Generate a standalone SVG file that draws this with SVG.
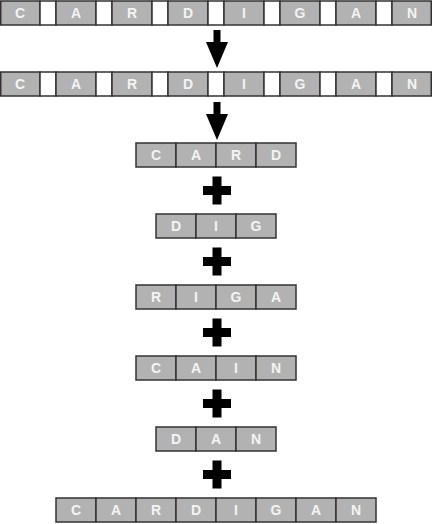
<svg xmlns="http://www.w3.org/2000/svg" width="432" height="524" viewBox="0 0 432 524">
<style>
.g{fill:#b2b2b2;stroke:#333;stroke-width:1.5}
.w{fill:#fff;stroke:#333;stroke-width:1.5}
text{font-family:"Liberation Sans",Arial,sans-serif;font-weight:bold;font-size:14px;fill:#f4f4f4;text-anchor:middle}
.sym{fill:#000}
</style>
<defs>
<path id="plus" d="M-4.5 -14 H4.5 V-4.5 H14 V4.5 H4.5 V14 H-4.5 V4.5 H-14 V-4.5 H-4.5 Z"/>
</defs>
<g id="row1">
<rect class="g" x="0.75" y="1" width="39.25" height="24"/><rect class="w" x="40" y="1" width="16" height="24"/>
<rect class="g" x="56" y="1" width="40" height="24"/><rect class="w" x="96" y="1" width="16" height="24"/>
<rect class="g" x="112" y="1" width="40" height="24"/><rect class="w" x="152" y="1" width="16" height="24"/>
<rect class="g" x="168" y="1" width="40" height="24"/><rect class="w" x="208" y="1" width="16" height="24"/>
<rect class="g" x="224" y="1" width="40" height="24"/><rect class="w" x="264" y="1" width="16" height="24"/>
<rect class="g" x="280" y="1" width="40" height="24"/><rect class="w" x="320" y="1" width="16" height="24"/>
<rect class="g" x="336" y="1" width="40" height="24"/><rect class="w" x="376" y="1" width="16" height="24"/>
<rect class="g" x="392" y="1" width="39.25" height="24"/>
<text x="20" y="18">C</text><text x="76" y="18">A</text><text x="132" y="18">R</text><text x="188" y="18">D</text>
<text x="244" y="18">I</text><text x="300" y="18">G</text><text x="356" y="18">A</text><text x="412" y="18">N</text>
</g>
<g id="row2">
<rect class="g" x="0.75" y="72" width="39.25" height="24"/><rect class="w" x="40" y="72" width="16" height="24"/>
<rect class="g" x="56" y="72" width="40" height="24"/><rect class="w" x="96" y="72" width="16" height="24"/>
<rect class="g" x="112" y="72" width="40" height="24"/><rect class="w" x="152" y="72" width="16" height="24"/>
<rect class="g" x="168" y="72" width="40" height="24"/><rect class="w" x="208" y="72" width="16" height="24"/>
<rect class="g" x="224" y="72" width="40" height="24"/><rect class="w" x="264" y="72" width="16" height="24"/>
<rect class="g" x="280" y="72" width="40" height="24"/><rect class="w" x="320" y="72" width="16" height="24"/>
<rect class="g" x="336" y="72" width="40" height="24"/><rect class="w" x="376" y="72" width="16" height="24"/>
<rect class="g" x="392" y="72" width="39.25" height="24"/>
<text x="20" y="89">C</text><text x="76" y="89">A</text><text x="132" y="89">R</text><text x="188" y="89">D</text>
<text x="244" y="89">I</text><text x="300" y="89">G</text><text x="356" y="89">A</text><text x="412" y="89">N</text>
</g>
<g id="card">
<rect class="g" x="136" y="143" width="40" height="24"/><rect class="g" x="176" y="143" width="40" height="24"/>
<rect class="g" x="216" y="143" width="40" height="24"/><rect class="g" x="256" y="143" width="40" height="24"/>
<text x="156" y="160">C</text><text x="196" y="160">A</text><text x="236" y="160">R</text><text x="276" y="160">D</text>
</g>
<g id="dig">
<rect class="g" x="156" y="214" width="40" height="24"/><rect class="g" x="196" y="214" width="40" height="24"/>
<rect class="g" x="236" y="214" width="40" height="24"/>
<text x="176" y="231">D</text><text x="216" y="231">I</text><text x="256" y="231">G</text>
</g>
<g id="riga">
<rect class="g" x="136" y="285" width="40" height="24"/><rect class="g" x="176" y="285" width="40" height="24"/>
<rect class="g" x="216" y="285" width="40" height="24"/><rect class="g" x="256" y="285" width="40" height="24"/>
<text x="156" y="302">R</text><text x="196" y="302">I</text><text x="236" y="302">G</text><text x="276" y="302">A</text>
</g>
<g id="cain">
<rect class="g" x="136" y="356" width="40" height="24"/><rect class="g" x="176" y="356" width="40" height="24"/>
<rect class="g" x="216" y="356" width="40" height="24"/><rect class="g" x="256" y="356" width="40" height="24"/>
<text x="156" y="373">C</text><text x="196" y="373">A</text><text x="236" y="373">I</text><text x="276" y="373">N</text>
</g>
<g id="dan">
<rect class="g" x="156" y="427" width="40" height="24"/><rect class="g" x="196" y="427" width="40" height="24"/>
<rect class="g" x="236" y="427" width="40" height="24"/>
<text x="176" y="444">D</text><text x="216" y="444">A</text><text x="256" y="444">N</text>
</g>
<g id="cardigan">
<rect class="g" x="56" y="498" width="40" height="24"/><rect class="g" x="96" y="498" width="40" height="24"/>
<rect class="g" x="136" y="498" width="40" height="24"/><rect class="g" x="176" y="498" width="40" height="24"/>
<rect class="g" x="216" y="498" width="40" height="24"/><rect class="g" x="256" y="498" width="40" height="24"/>
<rect class="g" x="296" y="498" width="40" height="24"/><rect class="g" x="336" y="498" width="40" height="24"/>
<text x="76" y="515">C</text><text x="116" y="515">A</text><text x="156" y="515">R</text><text x="196" y="515">D</text>
<text x="236" y="515">I</text><text x="276" y="515">G</text><text x="316" y="515">A</text><text x="356" y="515">N</text>
</g>
<g id="connectors">
<path class="sym" d="M213.5 30 H220.5 V42 H228 L217 68 L206 42 H213.5 Z"/>
<path class="sym" d="M213.5 102 H220.5 V114 H228 L217 140 L206 114 H213.5 Z"/>
<use class="sym" href="#plus" x="217" y="190.5"/>
<use class="sym" href="#plus" x="217" y="261.5"/>
<use class="sym" href="#plus" x="217" y="332.5"/>
<use class="sym" href="#plus" x="217" y="403.5"/>
<use class="sym" href="#plus" x="217" y="474.5"/>
</g>
</svg>
